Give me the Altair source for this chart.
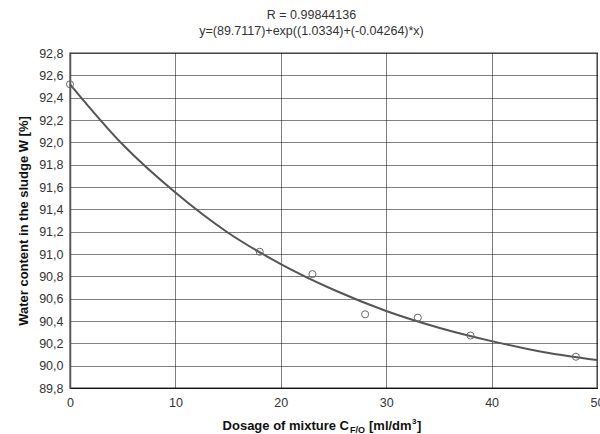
import altair as alt
import pandas as pd

# measured points
dose = [0, 18, 23, 28, 33, 38, 48]
water = [92.52, 91.02, 90.82, 90.46, 90.43, 90.27, 90.08]

# fitted curve
curve_x = [0, 5, 10, 15, 20, 25, 30, 35, 40, 45, 50]
curve_y = [92.52, 91.98, 91.55, 91.19, 90.91, 90.68, 90.49, 90.34, 90.22, 90.12, 90.05]

title_lines = ["R = 0.99844136", "y=(89.7117)+exp((1.0334)+(-0.04264)*x)"]
y_ticks = [89.8, 90.0, 90.2, 90.4, 90.6, 90.8, 91.0, 91.2, 91.4, 91.6, 91.8, 92.0, 92.2, 92.4, 92.6, 92.8]
x_ticks = [0, 10, 20, 30, 40, 50]

pts = pd.DataFrame({"x": dose, "y": water})
cur = pd.DataFrame({"x": curve_x, "y": curve_y})

FONT = "Liberation Sans"

xs = alt.Scale(domain=[0, 50], nice=False, zero=False)
ys = alt.Scale(domain=[89.8, 92.8], nice=False, zero=False)

xaxis = alt.Axis(values=x_ticks, title=None, ticks=False, labelPadding=8,
                 labelFont=FONT, labelFontSize=12.5, labelColor="#333",
                 labelOverlap=False, labelFlush=False, tickCount=6,
                 domainColor="#111", domainWidth=1.2,
                 grid=True, gridColor="#000", gridDash=[1, 1], gridWidth=1)
yaxis = alt.Axis(values=y_ticks, title="Water content in the sludge W [%]",
                 ticks=False, labelPadding=7, labelOverlap=False, tickCount=16,
                 labelExpr="replace(format(datum.value, '.1f'), '.', ',')",
                 labelFont=FONT, labelFontSize=12.5, labelColor="#333",
                 titleFont=FONT, titleFontSize=13, titleFontWeight="bold", titleColor="#111",
                 titleX=-40, titleBaseline="bottom",
                 domainColor="#555", domainWidth=1.5,
                 grid=True, gridColor="#000", gridDash=[1, 1], gridWidth=1)

line = alt.Chart(cur).mark_line(color="#555", strokeWidth=2, interpolate="monotone").encode(
    x=alt.X("x:Q", scale=xs, axis=xaxis),
    y=alt.Y("y:Q", scale=ys, axis=yaxis),
)
points = alt.Chart(pts).mark_point(shape="circle", filled=False, color="#666", size=50, strokeWidth=1, opacity=1).encode(
    x=alt.X("x:Q", scale=xs, axis=xaxis),
    y=alt.Y("y:Q", scale=ys, axis=yaxis),
)

one = pd.DataFrame({"a": [0]})
def label(txt, x, y, size, align="left"):
    return alt.Chart(one).mark_text(text=txt, font=FONT, fontSize=size, fontWeight="bold",
                                    color="#111", align=align, baseline="alphabetic").encode(
        x=alt.value(x), y=alt.value(y))

xt1 = label("Dosage of mixture C", 279, 377, 13, "right")
xt2 = label("F/O", 280, 380, 9)
xt3 = label("[ml/dm", 299, 377, 13)
xt4 = label("3", 342, 371, 8)
xt5 = label("]", 347, 377, 13)

chart = alt.layer(line, points, xt1, xt2, xt3, xt4, xt5).properties(
    width=527, height=335,
    autosize=alt.AutoSizeParams(type="none"),
    padding={"left": 70, "top": 53, "right": 3, "bottom": 46},
    title=alt.TitleParams(text=title_lines, font=FONT, fontSize=12.5, fontWeight="normal",
                          color="#333", anchor="middle", dx=-22, offset=10, lineHeight=16),
    background="white",
).configure_view(stroke="#777", strokeWidth=1.5)

chart.save("out.html", embed_options={"renderer": "svg", "actions": False})
